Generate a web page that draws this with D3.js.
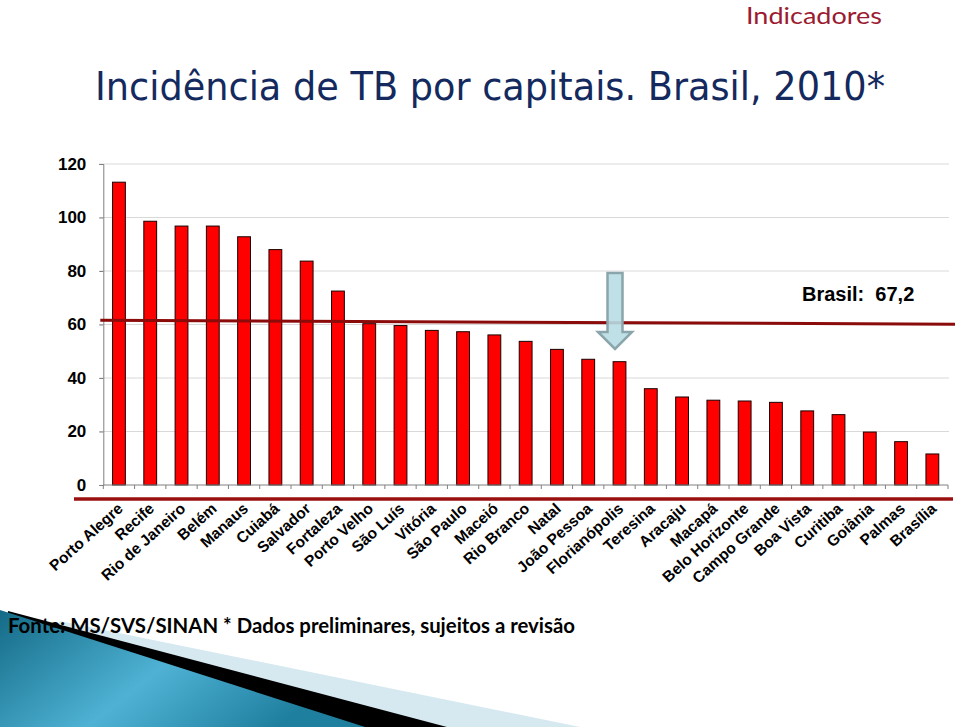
<!DOCTYPE html>
<html>
<head>
<meta charset="utf-8">
<script src="https://cdn.jsdelivr.net/npm/d3@7"></script>
<style>
  html, body { margin: 0; padding: 0; background: #fff; }
  svg { display: block; }
</style>
</head>
<body>
<svg id="chart" width="960" height="727"></svg>
<script>
// ---- Data ----
const categories = ["Porto Alegre","Recife","Rio de Janeiro","Belém","Manaus","Cuiabá","Salvador","Fortaleza","Porto Velho","São Luís","Vitória","São Paulo","Maceió","Rio Branco","Natal","João Pessoa","Florianópolis","Teresina","Aracaju","Macapá","Belo Horizonte","Campo Grande","Boa Vista","Curitiba","Goiânia","Palmas","Brasília"];
const values = [113.2, 98.6, 96.8, 96.8, 92.8, 88.0, 83.7, 72.5, 60.3, 59.6, 57.8, 57.3, 56.1, 53.7, 50.7, 47.0, 46.1, 36.0, 32.9, 31.7, 31.4, 30.9, 27.7, 26.3, 19.8, 16.2, 11.6];
const yTicks = [0, 20, 40, 60, 80, 100, 120];
const brasilLabel = "Brasil:  67,2";
const brasilLine = [61.6, 60.1];   // drawn level at the left and right ends
const highlightCity = "Florianópolis";
const titleText = "Incidência de TB por capitais. Brasil, 2010*";
const headerText = "Indicadores";
const footerText = "Fonte: MS/SVS/SINAN * Dados preliminares, sujeitos a revisão";

(function () {
// ---- Layout ----
const svg = d3.select("#chart");
const pLeft = 103.3, pRight = 948, pTop = 164, pBottom = 485;

const x = d3.scaleBand().domain(categories).range([pLeft, pRight]).padding(0);
const y = d3.scaleLinear().domain([0, 120]).range([pBottom, pTop]);
const bw = x.bandwidth();
const barW = bw * 0.41;

// ---- Bottom decoration ----
const defs = svg.append("defs");
const grad = defs.append("linearGradient").attr("id", "teal")
  .attr("x1", "0%").attr("y1", "0%").attr("x2", "100%").attr("y2", "40%");
grad.append("stop").attr("offset", "0%").attr("stop-color", "#136a86");
grad.append("stop").attr("offset", "55%").attr("stop-color", "#4fb2d4");
grad.append("stop").attr("offset", "100%").attr("stop-color", "#1f7f9f");

svg.append("polygon").attr("points", "60,621 580,727 0,727").attr("fill", "#d6e9f0");
svg.append("polygon").attr("points", "8,611 447,727 0,727").attr("fill", "#000");
svg.append("polygon").attr("points", "0,610 365,727 0,727").attr("fill", "url(#teal)");

// ---- Header & title ----
svg.append("text").attr("x", 746).attr("y", 24)
  .attr("font-family", "Lato, 'Open Sans', sans-serif")
  .attr("font-size", 23).attr("fill", "#9b1b30")
  .attr("textLength", 136).attr("lengthAdjust", "spacingAndGlyphs")
  .text(headerText);

svg.append("text").attr("x", 95).attr("y", 100)
  .attr("font-family", "'DejaVu Sans', sans-serif")
  .attr("font-size", 39).attr("fill", "#142a5e")
  .attr("textLength", 790).attr("lengthAdjust", "spacingAndGlyphs")
  .text(titleText);

// ---- Gridlines ----
svg.append("g").selectAll("line").data(yTicks.filter(d => d > 0)).join("line")
  .attr("x1", pLeft - 4).attr("x2", pRight + 1)
  .attr("y1", d => y(d)).attr("y2", d => y(d))
  .attr("stroke", "#d9d9d9").attr("stroke-width", 1);

// ---- Y axis ----
const yAxis = svg.append("g").attr("transform", `translate(${pLeft},0)`)
  .call(d3.axisLeft(y).tickValues(yTicks).tickSize(4).tickPadding(13).tickFormat(d3.format("d")));
yAxis.select(".domain").attr("stroke", "#808080");
yAxis.selectAll(".tick line").attr("stroke", "#808080");
yAxis.selectAll(".tick text")
  .attr("font-family", "'Liberation Sans', Arial, sans-serif")
  .attr("font-weight", "bold").attr("font-size", 17).attr("fill", "#000");

// ---- Bars ----
svg.append("g").selectAll("rect").data(values).join("rect")
  .attr("x", (d, i) => x(categories[i]) + bw / 2 - barW / 2)
  .attr("y", d => y(d))
  .attr("width", barW)
  .attr("height", d => y(0) - y(d))
  .attr("fill", "#ff0000").attr("stroke", "#1a0000").attr("stroke-width", 1);

// ---- X axis ----
svg.append("line").attr("x1", pLeft).attr("x2", pRight).attr("y1", pBottom).attr("y2", pBottom)
  .attr("stroke", "#808080");
const tickXs = categories.map(c => x(c)).concat([pRight]);
svg.append("g").selectAll("line").data(tickXs).join("line")
  .attr("x1", d => d).attr("x2", d => d).attr("y1", pBottom).attr("y2", pBottom + 4)
  .attr("stroke", "#808080");

// decorative dark-red rule below axis
svg.append("line").attr("x1", 74).attr("x2", 953).attr("y1", 499).attr("y2", 499)
  .attr("stroke", "#9a1010").attr("stroke-width", 3.5);

svg.append("g").selectAll("text").data(categories).join("text")
  .attr("transform", d => `translate(${x(d) + bw / 2 + 5},${510}) rotate(-42)`)
  .attr("text-anchor", "end")
  .attr("font-family", "'Liberation Sans', Arial, sans-serif")
  .attr("font-weight", "bold").attr("font-size", 15.5).attr("fill", "#000")
  .text(d => d);

// ---- Brasil reference line ----
svg.append("line")
  .attr("x1", pLeft - 3).attr("x2", pRight + 7)
  .attr("y1", y(brasilLine[0])).attr("y2", y(brasilLine[1]))
  .attr("stroke", "#8b0a0a").attr("stroke-width", 3);

svg.append("text").attr("x", 802).attr("y", 300.5)
  .attr("font-family", "'Liberation Sans', Arial, sans-serif")
  .attr("font-weight", "bold").attr("font-size", 20).attr("fill", "#000")
  .style("white-space", "pre")
  .text(brasilLabel);

// ---- Highlight arrow over Florianópolis ----
const ax = x(highlightCity) + bw / 2 - 4.5;
const arrowPts = [
  [ax - 7.5, 273], [ax + 7.5, 273], [ax + 7.5, 332], [ax + 17, 332],
  [ax, 349], [ax - 17, 332], [ax - 7.5, 332]
];
svg.append("polygon").attr("points", arrowPts.map(p => p.join(",")).join(" "))
  .attr("fill", "#b7dde3").attr("fill-opacity", 0.9)
  .attr("stroke", "#8aa6ac").attr("stroke-width", 2.5).attr("stroke-linejoin", "miter");

// ---- Footer ----
svg.append("text").attr("x", 8).attr("y", 633)
  .attr("font-family", "Lato, 'Open Sans', sans-serif")
  .attr("font-weight", "bold").attr("font-size", 21).attr("fill", "#000")
  .attr("textLength", 567).attr("lengthAdjust", "spacingAndGlyphs")
  .text(footerText);
})();
</script>
</body>
</html>
